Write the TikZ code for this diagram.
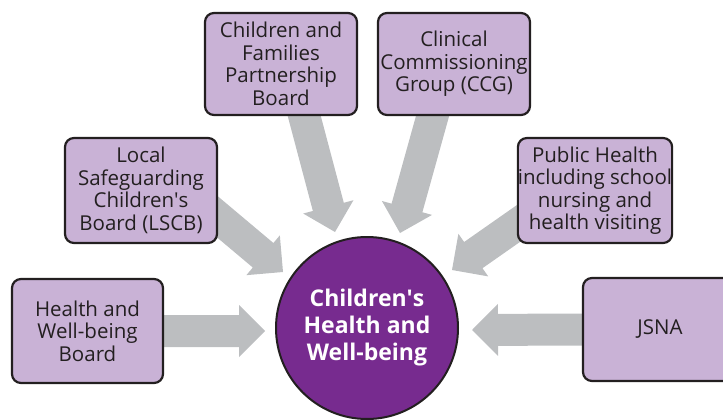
\documentclass[tikz,border=0pt]{standalone}
\usepackage{fontspec}
\setmainfont{Open Sans}
\usetikzlibrary{calc,backgrounds}
\definecolor{boxfill}{HTML}{C9B2D6}
\definecolor{circfill}{HTML}{772B8F}
\definecolor{arrgray}{HTML}{BCBEC0}
\definecolor{ink}{HTML}{231F20}
\newcommand\blockarrow[2]{%
  \coordinate (hb) at ($(#2)!26pt!(#1)$);
  \fill[arrgray] ($(#1)!16pt!90:(#2)$) -- ($(hb)!16pt!90:(#2)$) -- ($(hb)!26pt!90:(#2)$)
    -- (#2) -- ($(hb)!26pt!-90:(#2)$) -- ($(hb)!16pt!-90:(#2)$) -- ($(#1)!16pt!-90:(#2)$) -- cycle;}
\begin{document}
\begin{tikzpicture}[x=1pt,y=-1pt,
  box/.style={draw=ink, line width=2.2pt, fill=boxfill, rounded corners=9pt,
    minimum width=152pt, minimum height=104pt, align=center, text=ink,
    font=\fontsize{20.5}{22.5}\selectfont, inner sep=0pt},
  hub/.style={circle, draw=ink, line width=2pt, fill=circfill, minimum size=182pt,
    align=center, text=white, font=\fontsize{23}{27}\selectfont\bfseries, inner sep=0pt}]
\useasboundingbox (0,0) rectangle (723,420);
\clip (0,0) rectangle (723,420);
% nodes
\node[hub] (circ) at (367,328) {Children\textquotesingle s\\Health and\\Well-being};
\node[box, minimum width=151pt] (hwb) at (87.5,331) {\fontsize{20.5}{26.5}\selectfont Health and\\Well-being\\Board};
\node[box, minimum height=105pt] (lscb) at (141,190.5) {Local\\Safeguarding\\Children\textquotesingle s\\Board (LSCB)};
\node[box, minimum height=102pt] (cfp) at (281,64) {Children and\\Families\\Partnership\\Board};
\node[box, minimum height=102pt] (ccg) at (454,64) {Clinical\\Commissioning\\Group (CCG)};
\node[box, minimum height=105pt] (ph) at (595,190.5) {Public Health\\including school\\nursing and\\health visiting};
\node[box, minimum width=154pt, minimum height=103pt] (jsna) at (660,329.5) {JSNA};
% arrow end points
\coordinate (t1) at (hwb.east);   \coordinate (p1) at (265,331);
\coordinate (t2) at (195,198);    \coordinate (p2) at (283,272);
\coordinate (t3) at (300,100);    \coordinate (p3) at (335,232);
\coordinate (t4) at (437,100);    \coordinate (p4) at (400,233);
\coordinate (t5) at (542,207);    \coordinate (p5) at (452,270);
\coordinate (t6) at (jsna.west);  \coordinate (p6) at (472,330);
\begin{scope}[on background layer]
  \blockarrow{t1}{p1}
  \blockarrow{t2}{p2}
  \blockarrow{t3}{p3}
  \blockarrow{t4}{p4}
  \blockarrow{t5}{p5}
  \blockarrow{t6}{p6}
\end{scope}
\end{tikzpicture}
\end{document}
